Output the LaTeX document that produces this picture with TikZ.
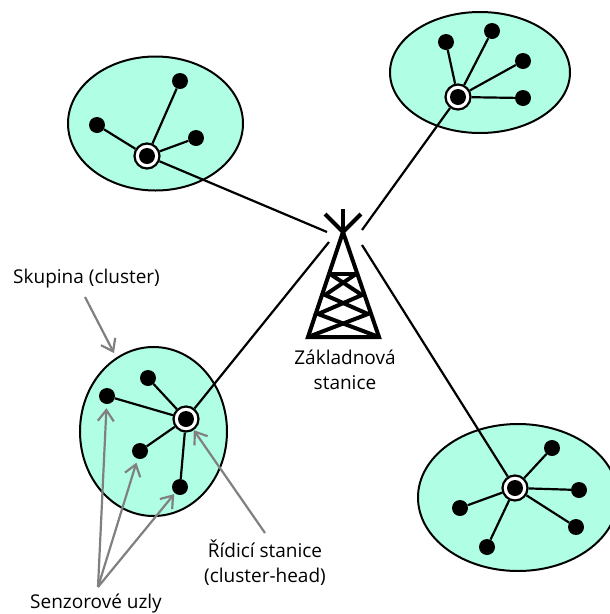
\documentclass[tikz,border=0pt]{standalone}
\usepackage{fontspec}
\setmainfont{Open Sans}
\usetikzlibrary{arrows.meta}
\usetikzlibrary{shapes.geometric}
\definecolor{clusterfill}{RGB}{176,255,228}
\definecolor{notegray}{RGB}{128,128,128}
\tikzset{
  cluster/.style={ellipse,draw,line width=2pt,fill=clusterfill,inner sep=0pt},
  sensor/.style={circle,fill=black,inner sep=0pt,minimum size=16pt},
  head/.style={circle,draw,line width=2.2pt,fill=white,inner sep=0pt,minimum size=25pt},
  headdot/.style={circle,fill=black,inner sep=0pt,minimum size=16pt},
  link/.style={draw=black,line width=2.2pt},
  tower/.style={draw=black,line width=4pt},
  note/.style={draw=notegray,line width=2.2pt,-{Straight Barb[length=11pt,width=16pt,line width=2.2pt]}},
  label/.style={align=center,font=\fontsize{19}{25}\selectfont,inner sep=0pt}
}
\begin{document}
\begin{tikzpicture}[x=1pt,y=-1pt]
    \useasboundingbox (0,0) rectangle (610,614);

    % clusters
    \node[cluster,minimum width=175pt,minimum height=134pt] (CA) at (155.5,123.5) {};
    \node[cluster,minimum width=180pt,minimum height=121pt] (CB) at (480,72.5) {};
    \node[cluster,minimum width=147pt,minimum height=169pt] (CC) at (153.5,431.5) {};
    \node[cluster,minimum width=200pt,minimum height=147pt] (CD) at (518,497.5) {};

    % stations
    \node[head] (HA) at (147,156) {};
    \node[head] (HB) at (458,97) {};
    \node[head] (HC) at (186,419) {};
    \node[head] (HD) at (515,488) {};
    \node[headdot] (DA) at (HA) {};
    \node[headdot] (DB) at (HB) {};
    \node[headdot] (DC) at (HC) {};
    \node[headdot] (DD) at (HD) {};

    % sensors
    \node[sensor] (A1) at (180,81) {};
    \node[sensor] (A2) at (97,125) {};
    \node[sensor] (A3) at (196,138) {};
    \node[sensor] (B1) at (446,42) {};
    \node[sensor] (B2) at (492,31) {};
    \node[sensor] (B3) at (523,61) {};
    \node[sensor] (B4) at (523,98) {};
    \node[sensor] (C1) at (148,378) {};
    \node[sensor] (C2) at (107,396) {};
    \node[sensor] (C3) at (140,451) {};
    \node[sensor] (C4) at (180,487) {};
    \node[sensor] (D1) at (552,448) {};
    \node[sensor] (D2) at (579,490) {};
    \node[sensor] (D3) at (576,527) {};
    \node[sensor] (D4) at (487,547) {};
    \node[sensor] (D5) at (460,508) {};

    \path[-] (HA) edge[link] (A1);
    \path[-] (HA) edge[link] (A2);
    \path[-] (HA) edge[link] (A3);
    \path[-] (HB) edge[link] (B1);
    \path[-] (HB) edge[link] (B2);
    \path[-] (HB) edge[link] (B3);
    \path[-] (HB) edge[link] (B4);
    \path[-] (HC) edge[link] (C1);
    \path[-] (HC) edge[link] (C2);
    \path[-] (HC) edge[link] (C3);
    \path[-] (HC) edge[link] (C4);
    \path[-] (HD) edge[link] (D1);
    \path[-] (HD) edge[link] (D2);
    \path[-] (HD) edge[link] (D3);
    \path[-] (HD) edge[link] (D4);
    \path[-] (HD) edge[link] (D5);

    % links to the tower
    \coordinate (TA) at (327,232);
    \coordinate (TB) at (362,230);
    \coordinate (TC) at (329,242);
    \coordinate (TD) at (362,245);
    \path[-] (HA) edge[link] (TA);
    \path[-] (HB) edge[link] (TB);
    \path[-] (HC) edge[link] (TC);
    \path[-] (HD) edge[link] (TD);

    % tower
    \draw[tower] (343,209) -- (343,232);
    \draw[tower] (325,214) -- (343,232) -- (361,214);
    \draw[tower] (308,337) -- (343,232) -- (379,337) -- cycle;
    \draw[tower] (330,274) -- (356,274);
    \draw[tower] (330,274) -- (362,295) -- (318,314) -- (379,337);
    \draw[tower] (356,274) -- (325,295) -- (368,314) -- (308,337);

    % labels
    \node[label,anchor=west] (skupina) at (13,279) {Skupina (cluster)};
    \node[label] (zakladna) at (345,370) {Základnová\\stanice};
    \node[label] (ridici) at (265,563) {Řídicí stanice\\(cluster-head)};
    \node[label] (senzory) at (96,603) {Senzorové uzly};

    % notes
    \coordinate (NS) at (98,587);
    \coordinate (NK) at (85,297);
    \coordinate (NK2) at (114,353);
    \coordinate (NR) at (265,533);
    \draw[note] (NK) -- (NK2);
    \draw[note] (NR) -- (HC);
    \draw[note,shorten >=4pt] (NS) -- (C2);
    \draw[note,shorten >=4pt] (NS) -- (C3);
    \draw[note,shorten >=1pt] (NS) -- (C4);
  \end{tikzpicture}
\end{document}
